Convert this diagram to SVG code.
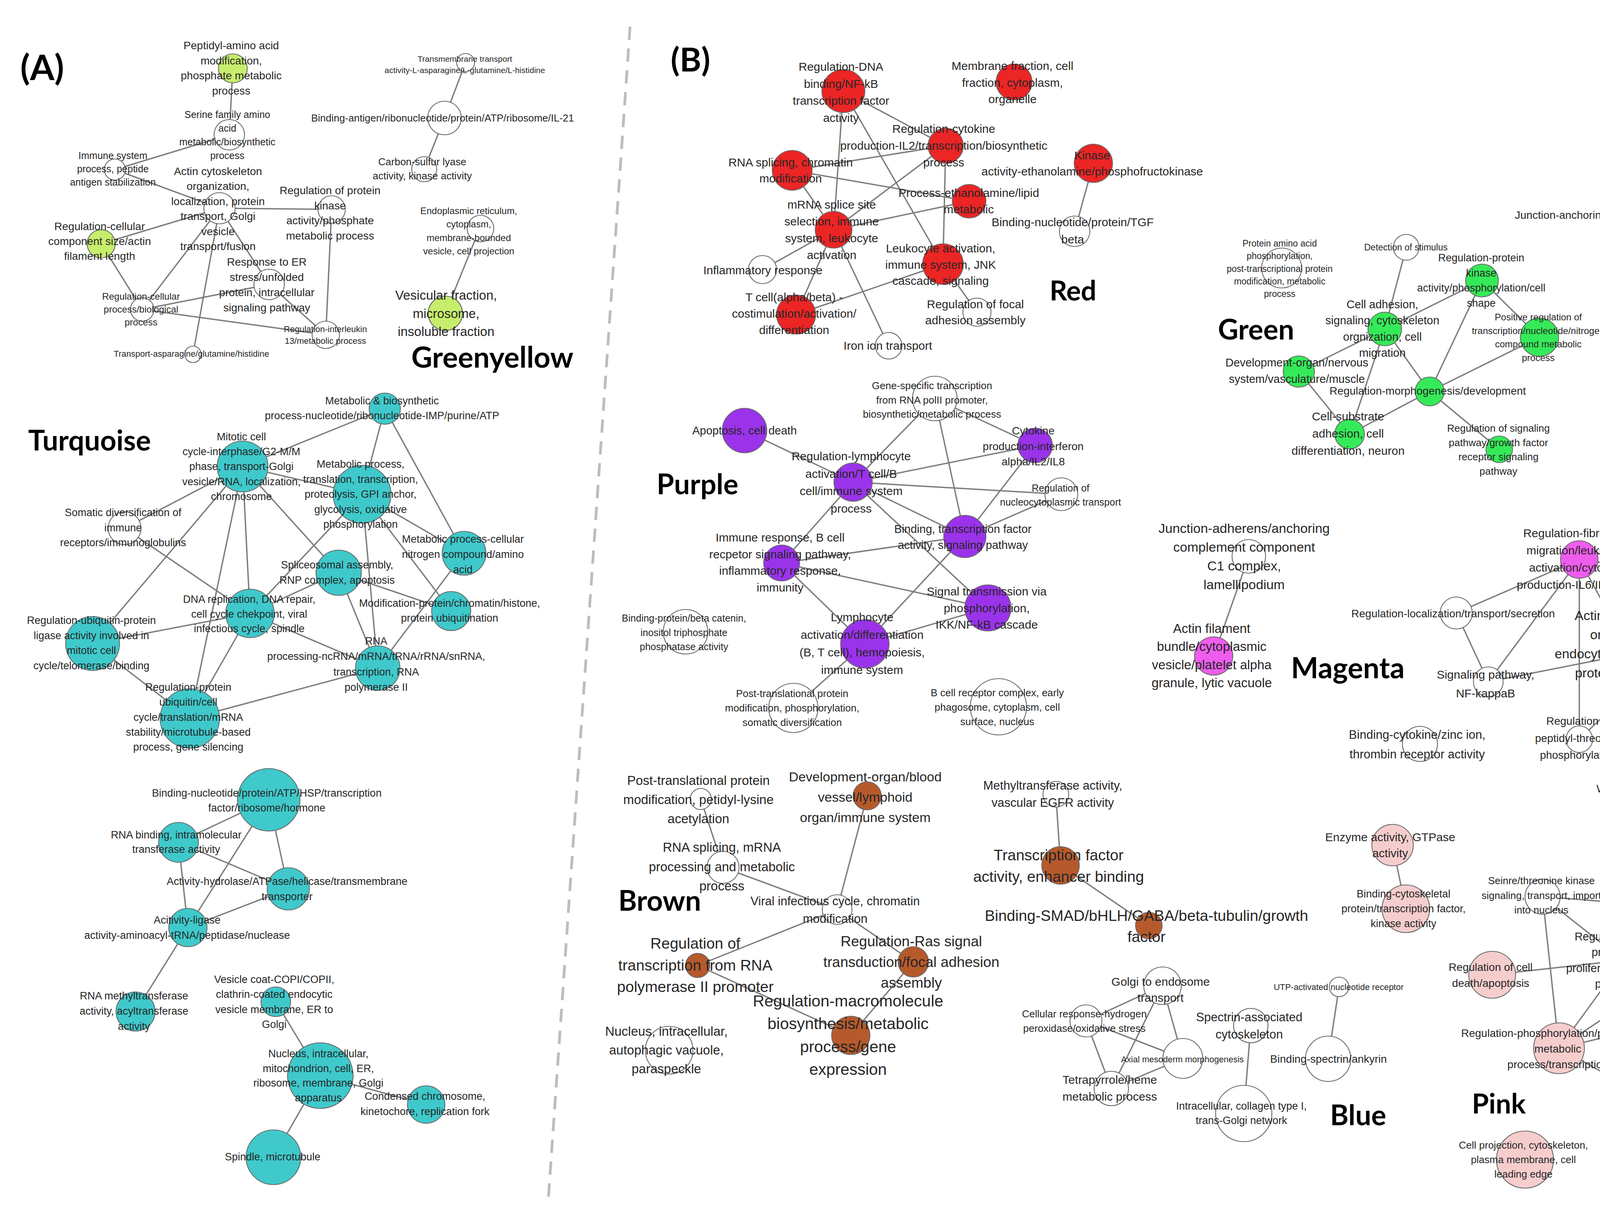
<svg xmlns="http://www.w3.org/2000/svg" width="4989" height="3097" viewBox="0 0 4989 3097">
<style>
.n{stroke:#6a6a6a;stroke-width:2.2}
.cw{fill:#fff}.cgy{fill:#c6ee6c}.ctq{fill:#3fc9cb}.crd{fill:#ec2525}.cgr{fill:#35ea58}.cpu{fill:#9a33ea}.cmg{fill:#ee5ded}.cbr{fill:#b65a2c}.cpk{fill:#f6cdcd}
.l{font-family:"Liberation Sans",Arial,sans-serif;fill:#262626;text-anchor:middle}
.t{font-family:Lato,"Liberation Sans",sans-serif;font-weight:bold;fill:#000}
#edges line{stroke:#7d7d7d;stroke-width:3.5}
</style>
<rect width="4989" height="3097" fill="#fff"/>
<line x1="1613" y1="68" x2="1404" y2="3065" stroke="#bdbdbd" stroke-width="7" stroke-dasharray="34 22"/>
<g id="titles">
<text class="t" x="52" y="205" font-size="90">(A)</text>
<text class="t" x="1717" y="183" font-size="84">(B)</text>
<text class="t" x="1053" y="941" font-size="74">Greenyellow</text>
<text class="t" x="72" y="1153" font-size="72">Turquoise</text>
<text class="t" x="2687" y="769" font-size="70">Red</text>
<text class="t" x="3118" y="869" font-size="72">Green</text>
<text class="t" x="1681" y="1265" font-size="72">Purple</text>
<text class="t" x="3305" y="1736" font-size="74">Magenta</text>
<text class="t" x="1583" y="2331" font-size="72">Brown</text>
<text class="t" x="3405" y="2880" font-size="72">Blue</text>
<text class="t" x="3768" y="2850" font-size="70">Pink</text>
</g>
<g id="edges">
<line x1="596" y1="175" x2="587" y2="345"/><line x1="587" y1="345" x2="294" y2="434"/><line x1="294" y1="434" x2="562" y2="533"/><line x1="562" y1="533" x2="259" y2="624"/><line x1="562" y1="533" x2="849" y2="536"/><line x1="562" y1="533" x2="689" y2="728"/><line x1="562" y1="533" x2="364" y2="792"/><line x1="562" y1="533" x2="494" y2="907"/><line x1="259" y1="624" x2="364" y2="792"/><line x1="364" y1="792" x2="689" y2="728"/><line x1="364" y1="792" x2="834" y2="857"/><line x1="689" y1="728" x2="834" y2="857"/><line x1="849" y1="536" x2="834" y2="857"/><line x1="1192" y1="160" x2="1138" y2="302"/><line x1="1138" y1="302" x2="1086" y2="433"/><line x1="1228" y1="585" x2="1140" y2="802"/>
<line x1="985" y1="1046" x2="621" y2="1194"/><line x1="985" y1="1046" x2="927" y2="1265"/><line x1="985" y1="1046" x2="1188" y2="1416"/><line x1="621" y1="1194" x2="927" y2="1265"/><line x1="621" y1="1194" x2="319" y2="1352"/><line x1="621" y1="1194" x2="237" y2="1647"/><line x1="621" y1="1194" x2="486" y2="1839"/><line x1="621" y1="1194" x2="640" y2="1570"/><line x1="621" y1="1194" x2="867" y2="1466"/><line x1="319" y1="1352" x2="640" y2="1570"/><line x1="927" y1="1265" x2="640" y2="1570"/><line x1="927" y1="1265" x2="967" y2="1710"/><line x1="927" y1="1265" x2="1188" y2="1416"/><line x1="927" y1="1265" x2="1155" y2="1564"/><line x1="867" y1="1466" x2="640" y2="1570"/><line x1="867" y1="1466" x2="967" y2="1710"/><line x1="867" y1="1466" x2="1155" y2="1564"/><line x1="1188" y1="1416" x2="967" y2="1710"/><line x1="640" y1="1570" x2="237" y2="1647"/><line x1="640" y1="1570" x2="967" y2="1710"/><line x1="640" y1="1570" x2="486" y2="1839"/><line x1="237" y1="1647" x2="486" y2="1839"/><line x1="486" y1="1839" x2="967" y2="1710"/>
<line x1="688" y1="2047" x2="457" y2="2156"/><line x1="688" y1="2047" x2="738" y2="2275"/><line x1="688" y1="2047" x2="481" y2="2374"/><line x1="457" y1="2156" x2="738" y2="2275"/><line x1="457" y1="2156" x2="481" y2="2374"/><line x1="738" y1="2275" x2="481" y2="2374"/><line x1="481" y1="2374" x2="347" y2="2589"/><line x1="706" y1="2564" x2="820" y2="2753"/><line x1="820" y1="2753" x2="1091" y2="2827"/><line x1="820" y1="2753" x2="700" y2="2962"/>
<line x1="2159" y1="233" x2="2134" y2="588"/><line x1="2159" y1="233" x2="2421" y2="373"/><line x1="2159" y1="233" x2="2414" y2="676"/><line x1="2028" y1="436" x2="2421" y2="373"/><line x1="2028" y1="436" x2="2481" y2="515"/><line x1="2028" y1="436" x2="2134" y2="588"/><line x1="2421" y1="373" x2="2134" y2="588"/><line x1="2421" y1="373" x2="2414" y2="676"/><line x1="2481" y1="515" x2="2134" y2="588"/><line x1="2134" y1="588" x2="1952" y2="690"/><line x1="2134" y1="588" x2="2038" y2="805"/><line x1="2134" y1="588" x2="2275" y2="885"/><line x1="2414" y1="676" x2="2038" y2="805"/><line x1="2414" y1="676" x2="2501" y2="799"/><line x1="2799" y1="418" x2="2751" y2="592"/>
<line x1="3600" y1="633" x2="3545" y2="842"/><line x1="3794" y1="718" x2="3545" y2="842"/><line x1="3794" y1="718" x2="3941" y2="863"/><line x1="3794" y1="718" x2="3660" y2="1002"/><line x1="3941" y1="863" x2="3660" y2="1002"/><line x1="3545" y1="842" x2="3325" y2="951"/><line x1="3545" y1="842" x2="3660" y2="1002"/><line x1="3545" y1="842" x2="3455" y2="1111"/><line x1="3325" y1="951" x2="3455" y2="1111"/><line x1="3660" y1="1002" x2="3455" y2="1111"/><line x1="3660" y1="1002" x2="3838" y2="1150"/><line x1="4230" y1="572" x2="4230" y2="762"/><line x1="4317" y1="931" x2="4317" y2="1098"/>
<line x1="1906" y1="1102" x2="2184" y2="1234"/><line x1="2184" y1="1234" x2="2393" y2="1020"/><line x1="2393" y1="1020" x2="2650" y2="1140"/><line x1="2184" y1="1234" x2="2650" y2="1140"/><line x1="2184" y1="1234" x2="2717" y2="1265"/><line x1="2184" y1="1234" x2="2470" y2="1373"/><line x1="2184" y1="1234" x2="2001" y2="1441"/><line x1="2184" y1="1234" x2="2529" y2="1556"/><line x1="2393" y1="1020" x2="2470" y2="1373"/><line x1="2650" y1="1140" x2="2470" y2="1373"/><line x1="2470" y1="1373" x2="2717" y2="1265"/><line x1="2001" y1="1441" x2="2470" y2="1373"/><line x1="2001" y1="1441" x2="2529" y2="1556"/><line x1="2001" y1="1441" x2="2214" y2="1648"/><line x1="2214" y1="1648" x2="2470" y2="1373"/><line x1="2214" y1="1648" x2="2529" y2="1556"/><line x1="2214" y1="1648" x2="2031" y2="1812"/>
<line x1="3197" y1="1424" x2="3107" y2="1679"/><line x1="4043" y1="1432" x2="4346" y2="1344"/><line x1="4043" y1="1432" x2="4466" y2="1490"/><line x1="4043" y1="1432" x2="3728" y2="1569"/><line x1="4043" y1="1432" x2="3810" y2="1745"/><line x1="4043" y1="1432" x2="4175" y2="1673"/><line x1="4043" y1="1432" x2="4043" y2="1892"/><line x1="4346" y1="1344" x2="4175" y2="1673"/><line x1="4466" y1="1490" x2="4611" y2="1725"/><line x1="4466" y1="1490" x2="4043" y2="1892"/><line x1="3728" y1="1569" x2="3810" y2="1745"/><line x1="3810" y1="1745" x2="4175" y2="1673"/><line x1="4175" y1="1673" x2="4611" y2="1725"/><line x1="4175" y1="1673" x2="4550" y2="1906"/><line x1="4175" y1="1673" x2="4271" y2="2038"/><line x1="4550" y1="1906" x2="4271" y2="2038"/>
<line x1="1794" y1="2045" x2="1851" y2="2220"/><line x1="1851" y1="2220" x2="2143" y2="2328"/><line x1="2220" y1="2037" x2="2143" y2="2328"/><line x1="2143" y1="2328" x2="1786" y2="2471"/><line x1="2143" y1="2328" x2="2338" y2="2462"/><line x1="1786" y1="2471" x2="2178" y2="2650"/><line x1="2338" y1="2462" x2="2178" y2="2650"/><line x1="2703" y1="2033" x2="2715" y2="2215"/><line x1="2715" y1="2215" x2="2941" y2="2369"/>
<line x1="2976" y1="2523" x2="2780" y2="2613"/><line x1="2976" y1="2523" x2="3028" y2="2709"/><line x1="2976" y1="2523" x2="2845" y2="2786"/><line x1="2780" y1="2613" x2="3028" y2="2709"/><line x1="2780" y1="2613" x2="2845" y2="2786"/><line x1="3028" y1="2709" x2="2845" y2="2786"/><line x1="3202" y1="2625" x2="3184" y2="2850"/><line x1="3428" y1="2526" x2="3400" y2="2710"/>
<line x1="3565" y1="2163" x2="3599" y2="2326"/><line x1="4296" y1="2182" x2="4155" y2="2458"/><line x1="3949" y1="2295" x2="4503" y2="2338"/><line x1="3949" y1="2295" x2="4155" y2="2458"/><line x1="3949" y1="2295" x2="3991" y2="2683"/><line x1="4503" y1="2338" x2="4155" y2="2458"/><line x1="4503" y1="2338" x2="3991" y2="2683"/><line x1="4503" y1="2338" x2="4411" y2="2582"/><line x1="3820" y1="2495" x2="4155" y2="2458"/><line x1="4155" y1="2458" x2="4714" y2="2517"/><line x1="4155" y1="2458" x2="3991" y2="2683"/><line x1="4155" y1="2458" x2="4280" y2="2842"/><line x1="4411" y1="2582" x2="3991" y2="2683"/><line x1="4411" y1="2582" x2="4280" y2="2842"/><line x1="4411" y1="2582" x2="4530" y2="2725"/><line x1="4714" y1="2517" x2="4530" y2="2725"/><line x1="3991" y1="2683" x2="4280" y2="2842"/><line x1="4530" y1="2725" x2="4280" y2="2842"/><line x1="4530" y1="2725" x2="4727" y2="2831"/><line x1="4530" y1="2725" x2="4420" y2="2978"/><line x1="4530" y1="2725" x2="4750" y2="2988"/><line x1="4280" y1="2842" x2="4727" y2="2831"/><line x1="4727" y1="2831" x2="4420" y2="2978"/>
</g>
<g id="nodes">
<g id="gy1"><circle class="n cgy" cx="596" cy="175" r="37"/><text class="l" x="592" y="126" font-size="28"><tspan x="592">Peptidyl-amino acid</tspan><tspan x="592" dy="38.7">modification,</tspan><tspan x="592" dy="38.7">phosphate metabolic</tspan><tspan x="592" dy="38.7">process</tspan></text></g>
<g id="gy2"><circle class="n cw" cx="587" cy="345" r="39"/><text class="l" x="582" y="302" font-size="25"><tspan x="582">Serine family amino</tspan><tspan x="582" dy="35">acid</tspan><tspan x="582" dy="35">metabolic/biosynthetic</tspan><tspan x="582" dy="35">process</tspan></text></g>
<g id="gy3"><circle class="n cw" cx="294" cy="434" r="27"/><text class="l" x="289" y="407" font-size="25"><tspan x="289">Immune system</tspan><tspan x="289" dy="34">process, peptide</tspan><tspan x="289" dy="34">antigen stabilization</tspan></text></g>
<g id="gy4"><circle class="n cw" cx="562" cy="533" r="40"/><text class="l" x="558" y="448" font-size="28"><tspan x="558">Actin cytoskeleton</tspan><tspan x="558" dy="38.4">organization,</tspan><tspan x="558" dy="38.4">localization, protein</tspan><tspan x="558" dy="38.4">transport, Golgi</tspan><tspan x="558" dy="38.4">vesicle</tspan><tspan x="558" dy="38.4">transport/fusion</tspan></text></g>
<g id="gy5"><circle class="n cgy" cx="259" cy="624" r="36"/><text class="l" x="255" y="589" font-size="28"><tspan x="255">Regulation-cellular</tspan><tspan x="255" dy="38">component size/actin</tspan><tspan x="255" dy="38">filament length</tspan></text></g>
<g id="gy6"><circle class="n cw" cx="849" cy="536" r="35"/><text class="l" x="845" y="497" font-size="28"><tspan x="845">Regulation of protein</tspan><tspan x="845" dy="38.7">kinase</tspan><tspan x="845" dy="38.7">activity/phosphate</tspan><tspan x="845" dy="38.7">metabolic process</tspan></text></g>
<g id="gy7"><circle class="n cw" cx="689" cy="728" r="39"/><text class="l" x="683" y="680" font-size="28"><tspan x="683">Response to ER</tspan><tspan x="683" dy="39">stress/unfolded</tspan><tspan x="683" dy="39">protein, intracellular</tspan><tspan x="683" dy="39">signaling pathway</tspan></text></g>
<g id="gy8"><circle class="n cw" cx="364" cy="792" r="30"/><text class="l" x="361" y="767" font-size="24"><tspan x="361">Regulation-cellular</tspan><tspan x="361" dy="33">process/biological</tspan><tspan x="361" dy="33">process</tspan></text></g>
<g id="gy9"><circle class="n cw" cx="834" cy="857" r="35"/><text class="l" x="833" y="850" font-size="22"><tspan x="833">Regulation-interleukin</tspan><tspan x="833" dy="30">13/metabolic process</tspan></text></g>
<g id="gy10"><circle class="n cw" cx="494" cy="907" r="21"/><text class="l" x="490" y="913" font-size="22">Transport-asparagine/glutamine/histidine</text></g>
<g id="gy11"><circle class="n cw" cx="1192" cy="160" r="23"/><text class="l" x="1190" y="158" font-size="21"><tspan x="1190">Transmembrane transport</tspan><tspan x="1190" dy="29">activity-L-asparagine/L-glutamine/L-histidine</tspan></text></g>
<g id="gy12"><circle class="n cw" cx="1138" cy="302" r="43"/><text class="l" x="1133" y="311" font-size="26">Binding-antigen/ribonucleotide/protein/ATP/ribosome/IL-21</text></g>
<g id="gy13"><circle class="n cw" cx="1086" cy="433" r="32"/><text class="l" x="1081" y="423" font-size="26"><tspan x="1081">Carbon-sulfur lyase</tspan><tspan x="1081" dy="36">activity, kinase activity</tspan></text></g>
<g id="gy14"><circle class="n cw" cx="1230" cy="585" r="34"/><text class="l" x="1200" y="548" font-size="24"><tspan x="1200">Endoplasmic reticulum,</tspan><tspan x="1200" dy="34.3">cytoplasm,</tspan><tspan x="1200" dy="34.3">membrane-bounded</tspan><tspan x="1200" dy="34.3">vesicle, cell projection</tspan></text></g>
<g id="gy15"><circle class="n cgy" cx="1140" cy="802" r="44"/><text class="l" x="1142" y="767" font-size="33"><tspan x="1142">Vesicular fraction,</tspan><tspan x="1142" dy="46.5">microsome,</tspan><tspan x="1142" dy="46.5">insoluble fraction</tspan></text></g>

<g id="t1"><circle class="n ctq" cx="985" cy="1046" r="40"/><text class="l" x="978" y="1035" font-size="27"><tspan x="978">Metabolic &amp; biosynthetic</tspan><tspan x="978" dy="38">process-nucleotide/ribonucleotide-IMP/purine/ATP</tspan></text></g>
<g id="t2"><circle class="n ctq" cx="621" cy="1194" r="65"/><text class="l" x="618" y="1127" font-size="27"><tspan x="618">Mitotic cell</tspan><tspan x="618" dy="38.2">cycle-interphase/G2-M/M</tspan><tspan x="618" dy="38.2">phase, transport-Golgi</tspan><tspan x="618" dy="38.2">vesicle/RNA, localization,</tspan><tspan x="618" dy="38.2">chromosome</tspan></text></g>
<g id="t3"><circle class="n ctq" cx="927" cy="1265" r="74"/><text class="l" x="923" y="1197" font-size="27"><tspan x="923">Metabolic process,</tspan><tspan x="923" dy="38.5">translation, transcription,</tspan><tspan x="923" dy="38.5">proteolysis, GPI anchor,</tspan><tspan x="923" dy="38.5">glycolysis, oxidative</tspan><tspan x="923" dy="38.5">phosphorylation</tspan></text></g>
<g id="t4"><circle class="n cw" cx="319" cy="1352" r="42"/><text class="l" x="315" y="1321" font-size="27"><tspan x="315">Somatic diversification of</tspan><tspan x="315" dy="38.5">immune</tspan><tspan x="315" dy="38.5">receptors/immunoglobulins</tspan></text></g>
<g id="t5"><circle class="n ctq" cx="1188" cy="1416" r="56"/><text class="l" x="1185" y="1389" font-size="27"><tspan x="1185">Metabolic process-cellular</tspan><tspan x="1185" dy="39">nitrogen compound/amino</tspan><tspan x="1185" dy="39">acid</tspan></text></g>
<g id="t6"><circle class="n ctq" cx="867" cy="1466" r="58"/><text class="l" x="863" y="1455" font-size="27"><tspan x="863">Spliceosomal assembly,</tspan><tspan x="863" dy="39">RNP complex, apoptosis</tspan></text></g>
<g id="t7"><circle class="n ctq" cx="1155" cy="1564" r="50"/><text class="l" x="1151" y="1553" font-size="27"><tspan x="1151">Modification-protein/chromatin/histone,</tspan><tspan x="1151" dy="38">protein ubiquitination</tspan></text></g>
<g id="t8"><circle class="n ctq" cx="640" cy="1570" r="62"/><text class="l" x="638" y="1543" font-size="27"><tspan x="638">DNA replication, DNA repair,</tspan><tspan x="638" dy="37.5">cell cycle chekpoint, viral</tspan><tspan x="638" dy="37.5">infectious cycle, spindle</tspan></text></g>
<g id="t9"><circle class="n ctq" cx="237" cy="1647" r="69"/><text class="l" x="234" y="1597" font-size="27"><tspan x="234">Regulation-ubiquitin-protein</tspan><tspan x="234" dy="38.7">ligase activity involved in</tspan><tspan x="234" dy="38.7">mitotic cell</tspan><tspan x="234" dy="38.7">cycle/telomerase/binding</tspan></text></g>
<g id="t10"><circle class="n ctq" cx="967" cy="1710" r="57"/><text class="l" x="963" y="1650" font-size="27"><tspan x="963">RNA</tspan><tspan x="963" dy="39.3">processing-ncRNA/mRNA/tRNA/rRNA/snRNA,</tspan><tspan x="963" dy="39.3">transcription, RNA</tspan><tspan x="963" dy="39.3">polymerase II</tspan></text></g>
<g id="t11"><circle class="n ctq" cx="486" cy="1839" r="76"/><text class="l" x="482" y="1768" font-size="27"><tspan x="482">Regulation-protein</tspan><tspan x="482" dy="38.3">ubiquitin/cell</tspan><tspan x="482" dy="38.3">cycle/translation/mRNA</tspan><tspan x="482" dy="38.3">stability/microtubule-based</tspan><tspan x="482" dy="38.3">process, gene silencing</tspan></text></g>
<g id="t12"><circle class="n ctq" cx="688" cy="2047" r="80"/><text class="l" x="683" y="2039" font-size="27"><tspan x="683">Binding-nucleotide/protein/ATP/HSP/transcription</tspan><tspan x="683" dy="38">factor/ribosome/hormone</tspan></text></g>
<g id="t13"><circle class="n ctq" cx="457" cy="2156" r="51"/><text class="l" x="451" y="2146" font-size="27"><tspan x="451">RNA binding, intramolecular</tspan><tspan x="451" dy="37">transferase activity</tspan></text></g>
<g id="t14"><circle class="n ctq" cx="738" cy="2275" r="54"/><text class="l" x="735" y="2265" font-size="27"><tspan x="735">Activity-hydrolase/ATPase/helicase/transmembrane</tspan><tspan x="735" dy="39">transporter</tspan></text></g>
<g id="t15"><circle class="n ctq" cx="481" cy="2374" r="49"/><text class="l" x="479" y="2364" font-size="27"><tspan x="479">Acitivity-ligase</tspan><tspan x="479" dy="39">activity-aminoacyl-tRNA/peptidase/nuclease</tspan></text></g>
<g id="t16"><circle class="n ctq" cx="347" cy="2589" r="50"/><text class="l" x="343" y="2558" font-size="27"><tspan x="343">RNA methyltransferase</tspan><tspan x="343" dy="39">activity, acyltransferase</tspan><tspan x="343" dy="39">activity</tspan></text></g>
<g id="t17"><circle class="n ctq" cx="706" cy="2564" r="38"/><text class="l" x="702" y="2516" font-size="27"><tspan x="702">Vesicle coat-COPI/COPII,</tspan><tspan x="702" dy="38.3">clathrin-coated endocytic</tspan><tspan x="702" dy="38.3">vesicle membrane, ER to</tspan><tspan x="702" dy="38.3">Golgi</tspan></text></g>
<g id="t18"><circle class="n ctq" cx="820" cy="2753" r="84"/><text class="l" x="815" y="2706" font-size="27"><tspan x="815">Nucleus, intracellular,</tspan><tspan x="815" dy="37.7">mitochondrion, cell, ER,</tspan><tspan x="815" dy="37.7">ribosome, membrane, Golgi</tspan><tspan x="815" dy="37.7">apparatus</tspan></text></g>
<g id="t19"><circle class="n ctq" cx="1091" cy="2827" r="48"/><text class="l" x="1088" y="2815" font-size="27"><tspan x="1088">Condensed chromosome,</tspan><tspan x="1088" dy="39">kinetochore, replication fork</tspan></text></g>
<g id="t20"><circle class="n ctq" cx="700" cy="2962" r="70"/><text class="l" x="698" y="2970" font-size="27">Spindle, microtubule</text></g>

<g id="r1"><circle class="n crd" cx="2159" cy="233" r="55"/><text class="l" x="2153" y="181" font-size="30"><tspan x="2153">Regulation-DNA</tspan><tspan x="2153" dy="43.7">binding/NF-kB</tspan><tspan x="2153" dy="43.7">transcription factor</tspan><tspan x="2153" dy="43.7">activity</tspan></text></g>
<g id="r2"><circle class="n crd" cx="2596" cy="210" r="46"/><text class="l" x="2592" y="179" font-size="30"><tspan x="2592">Membrane fraction, cell</tspan><tspan x="2592" dy="42.5">fraction, cytoplasm,</tspan><tspan x="2592" dy="42.5">organelle</tspan></text></g>
<g id="r3"><circle class="n crd" cx="2421" cy="373" r="45"/><text class="l" x="2416" y="340" font-size="30"><tspan x="2416">Regulation-cytokine</tspan><tspan x="2416" dy="43">production-IL2/transcription/biosynthetic</tspan><tspan x="2416" dy="43">process</tspan></text></g>
<g id="r4"><circle class="n crd" cx="2028" cy="436" r="51"/><text class="l" x="2024" y="426" font-size="30"><tspan x="2024">RNA splicing, chromatin</tspan><tspan x="2024" dy="41">modification</tspan></text></g>
<g id="r5"><circle class="n crd" cx="2799" cy="418" r="49"/><text class="l" x="2796" y="408" font-size="30"><tspan x="2796">Kinase</tspan><tspan x="2796" dy="41">activity-ethanolamine/phosphofructokinase</tspan></text></g>
<g id="r6"><circle class="n crd" cx="2481" cy="515" r="43"/><text class="l" x="2480" y="504" font-size="30"><tspan x="2480">Process-ethanolamine/lipid</tspan><tspan x="2480" dy="42">metabolic</tspan></text></g>
<g id="r7"><circle class="n crd" cx="2134" cy="588" r="47"/><text class="l" x="2129" y="534" font-size="30"><tspan x="2129">mRNA splice site</tspan><tspan x="2129" dy="43">selection, immune</tspan><tspan x="2129" dy="43">system, leukocyte</tspan><tspan x="2129" dy="43">activation</tspan></text></g>
<g id="r8"><circle class="n cw" cx="2751" cy="592" r="39"/><text class="l" x="2746" y="579" font-size="30"><tspan x="2746">Binding-nucleotide/protein/TGF</tspan><tspan x="2746" dy="44">beta</tspan></text></g>
<g id="r9"><circle class="n crd" cx="2414" cy="676" r="52"/><text class="l" x="2408" y="646" font-size="30"><tspan x="2408">Leukocyte activation,</tspan><tspan x="2408" dy="41.5">immune system, JNK</tspan><tspan x="2408" dy="41.5">cascade, signaling</tspan></text></g>
<g id="r10"><circle class="n cw" cx="1952" cy="690" r="36"/><text class="l" x="1953" y="702" font-size="30">Inflammatory response</text></g>
<g id="r11"><circle class="n crd" cx="2038" cy="805" r="50"/><text class="l" x="2033" y="771" font-size="30"><tspan x="2033">T cell(alpha/beta) -</tspan><tspan x="2033" dy="42">costimulation/activation/</tspan><tspan x="2033" dy="42">differentiation</tspan></text></g>
<g id="r12"><circle class="n cw" cx="2501" cy="799" r="36"/><text class="l" x="2497" y="789" font-size="30"><tspan x="2497">Regulation of focal</tspan><tspan x="2497" dy="41">adhesion assembly</tspan></text></g>
<g id="r13"><circle class="n cw" cx="2275" cy="885" r="34"/><text class="l" x="2273" y="895" font-size="30">Iron ion transport</text></g>

<g id="g1"><circle class="n cw" cx="3281" cy="686" r="51"/><text class="l" x="3276" y="631" font-size="23"><tspan x="3276">Protein amino acid</tspan><tspan x="3276" dy="32.3">phosphorylation,</tspan><tspan x="3276" dy="32.3">post-transcriptional protein</tspan><tspan x="3276" dy="32.3">modification, metabolic</tspan><tspan x="3276" dy="32.3">process</tspan></text></g>
<g id="g2"><circle class="n cw" cx="3600" cy="633" r="33"/><text class="l" x="3599" y="641" font-size="23">Detection of stimulus</text></g>
<g id="g3"><circle class="n cgr" cx="3794" cy="718" r="42"/><text class="l" x="3792" y="669" font-size="27"><tspan x="3792">Regulation-protein</tspan><tspan x="3792" dy="38.7">kinase</tspan><tspan x="3792" dy="38.7">activity/phosphorylation/cell</tspan><tspan x="3792" dy="38.7">shape</tspan></text></g>
<g id="g4"><circle class="n cgr" cx="3545" cy="842" r="43"/><text class="l" x="3539" y="789" font-size="29"><tspan x="3539">Cell adhesion,</tspan><tspan x="3539" dy="41.3">signaling, cytoskeleton</tspan><tspan x="3539" dy="41.3">orgnization, cell</tspan><tspan x="3539" dy="41.3">migration</tspan></text></g>
<g id="g5"><circle class="n cgr" cx="3325" cy="951" r="40"/><text class="l" x="3320" y="938" font-size="29"><tspan x="3320">Development-organ/nervous</tspan><tspan x="3320" dy="42">system/vasculature/muscle</tspan></text></g>
<g id="g6"><circle class="n cgr" cx="3660" cy="1002" r="37"/><text class="l" x="3655" y="1010" font-size="28">Regulation-morphogenesis/development</text></g>
<g id="g7"><circle class="n cgr" cx="3941" cy="863" r="49"/><text class="l" x="3938" y="820" font-size="24"><tspan x="3938">Positive regulation of</tspan><tspan x="3938" dy="34.7">transcription/nucleotide/nitrogen</tspan><tspan x="3938" dy="34.7">compound metabolic</tspan><tspan x="3938" dy="34.7">process</tspan></text></g>
<g id="g8"><circle class="n cgr" cx="4230" cy="572" r="34"/><text class="l" x="4225" y="560" font-size="28"><tspan x="4225">Junction-anchoring/adherens/cell/cell-cell/cell-substrate,</tspan><tspan x="4225" dy="41">focal adhesion</tspan></text></g>
<g id="g9"><circle class="n cgr" cx="4230" cy="762" r="50"/><text class="l" x="4225" y="709" font-size="29"><tspan x="4225">Extracellular matrix,</tspan><tspan x="4225" dy="41">plasma membrane,</tspan><tspan x="4225" dy="41">actin, laminin, cell</tspan><tspan x="4225" dy="41">projection</tspan></text></g>
<g id="g10"><circle class="n cgr" cx="4317" cy="931" r="39"/><text class="l" x="4314" y="904" font-size="26"><tspan x="4314">Transmembrane receptor</tspan><tspan x="4314" dy="36.5">protein kinase activity,</tspan><tspan x="4314" dy="36.5">growth factor binding</tspan></text></g>
<g id="g11"><circle class="n cgr" cx="4317" cy="1098" r="42"/><text class="l" x="4313" y="1089" font-size="27"><tspan x="4313">Binding-cytoskeletal</tspan><tspan x="4313" dy="38">protein/actin/calcium ion</tspan></text></g>
<g id="g12"><circle class="n cgr" cx="3455" cy="1111" r="38"/><text class="l" x="3451" y="1076" font-size="30"><tspan x="3451">Cell-substrate</tspan><tspan x="3451" dy="44">adhesion, cell</tspan><tspan x="3451" dy="44">differentiation, neuron</tspan></text></g>
<g id="g13"><circle class="n cgr" cx="3838" cy="1150" r="34"/><text class="l" x="3836" y="1105" font-size="26"><tspan x="3836">Regulation of signaling</tspan><tspan x="3836" dy="36.7">pathway/growth factor</tspan><tspan x="3836" dy="36.7">receptor signaling</tspan><tspan x="3836" dy="36.7">pathway</tspan></text></g>

<g id="p1"><circle class="n cw" cx="2393" cy="1020" r="57"/><text class="l" x="2386" y="996" font-size="26"><tspan x="2386">Gene-specific transcription</tspan><tspan x="2386" dy="36.5">from RNA polII promoter,</tspan><tspan x="2386" dy="36.5">biosynthetic/metabolic process</tspan></text></g>
<g id="p2"><circle class="n cpu" cx="1906" cy="1102" r="57"/><text class="l" x="1906" y="1112" font-size="29">Apoptosis, cell death</text></g>
<g id="p3"><circle class="n cpu" cx="2184" cy="1234" r="49"/><text class="l" x="2179" y="1178" font-size="30"><tspan x="2179">Regulation-lymphocyte</tspan><tspan x="2179" dy="44.7">activation/T cell/B</tspan><tspan x="2179" dy="44.7">cell/immune system</tspan><tspan x="2179" dy="44.7">process</tspan></text></g>
<g id="p4"><circle class="n cpu" cx="2650" cy="1140" r="44"/><text class="l" x="2645" y="1112" font-size="28"><tspan x="2645">Cytokine</tspan><tspan x="2645" dy="39.5">production-interferon</tspan><tspan x="2645" dy="39.5">alpha/IL2/IL8</tspan></text></g>
<g id="p5"><circle class="n cw" cx="2717" cy="1265" r="42"/><text class="l" x="2715" y="1258" font-size="25"><tspan x="2715">Regulation of</tspan><tspan x="2715" dy="36">nucleocytoplasmic transport</tspan></text></g>
<g id="p6"><circle class="n cpu" cx="2470" cy="1373" r="54"/><text class="l" x="2465" y="1364" font-size="29"><tspan x="2465">Binding, transcription factor</tspan><tspan x="2465" dy="41">activity, signaling pathway</tspan></text></g>
<g id="p7"><circle class="n cpu" cx="2001" cy="1441" r="46"/><text class="l" x="1997" y="1386" font-size="30"><tspan x="1997">Immune response, B cell</tspan><tspan x="1997" dy="42.7">recpetor signaling pathway,</tspan><tspan x="1997" dy="42.7">inflammatory response,</tspan><tspan x="1997" dy="42.7">immunity</tspan></text></g>
<g id="p8"><circle class="n cpu" cx="2529" cy="1556" r="59"/><text class="l" x="2526" y="1524" font-size="30"><tspan x="2526">Signal transmission via</tspan><tspan x="2526" dy="42.5">phosphorylation,</tspan><tspan x="2526" dy="42.5">IKK/NF-kB cascade</tspan></text></g>
<g id="p9"><circle class="n cpu" cx="2214" cy="1648" r="62"/><text class="l" x="2207" y="1590" font-size="30"><tspan x="2207">Lymphocyte</tspan><tspan x="2207" dy="45">activation/differentiation</tspan><tspan x="2207" dy="45">(B, T cell), hemopoiesis,</tspan><tspan x="2207" dy="45">immune system</tspan></text></g>
<g id="p10"><circle class="n cw" cx="1755" cy="1617" r="57"/><text class="l" x="1751" y="1591" font-size="25"><tspan x="1751">Binding-protein/beta catenin,</tspan><tspan x="1751" dy="36.5">inositol triphosphate</tspan><tspan x="1751" dy="36.5">phosphatase activity</tspan></text></g>
<g id="p11"><circle class="n cw" cx="2031" cy="1812" r="63"/><text class="l" x="2028" y="1784" font-size="26"><tspan x="2028">Post-translational protein</tspan><tspan x="2028" dy="37">modification, phosphorylation,</tspan><tspan x="2028" dy="37">somatic diversification</tspan></text></g>
<g id="p12"><circle class="n cw" cx="2556" cy="1809" r="72"/><text class="l" x="2553" y="1782" font-size="26"><tspan x="2553">B cell receptor complex, early</tspan><tspan x="2553" dy="37">phagosome, cytoplasm, cell</tspan><tspan x="2553" dy="37">surface, nucleus</tspan></text></g>

<g id="m1"><circle class="n cw" cx="3197" cy="1424" r="43"/><text class="l" x="3185" y="1364" font-size="34"><tspan x="3185">Junction-adherens/anchoring</tspan><tspan x="3185" dy="48">complement component</tspan><tspan x="3185" dy="48">C1 complex,</tspan><tspan x="3185" dy="48">lamellipodium</tspan></text></g>
<g id="m2"><circle class="n cmg" cx="3107" cy="1679" r="49"/><text class="l" x="3102" y="1620" font-size="33"><tspan x="3102">Actin filament</tspan><tspan x="3102" dy="46.3">bundle/cytoplasmic</tspan><tspan x="3102" dy="46.3">vesicle/platelet alpha</tspan><tspan x="3102" dy="46.3">granule, lytic vacuole</tspan></text></g>
<g id="m3"><circle class="n cmg" cx="4043" cy="1432" r="48"/><text class="l" x="4037" y="1375" font-size="30"><tspan x="4037">Regulation-fibroblast</tspan><tspan x="4037" dy="44">migration/leukocyte</tspan><tspan x="4037" dy="44">activation/cytokine</tspan><tspan x="4037" dy="44">production-IL6/IL8/IL1b</tspan></text></g>
<g id="m4"><circle class="n cw" cx="4346" cy="1344" r="42"/><text class="l" x="4346" y="1354" font-size="29">Homeostasis</text></g>
<g id="m5"><circle class="n cw" cx="4466" cy="1490" r="42"/><text class="l" x="4462" y="1430" font-size="34"><tspan x="4462">mRNA metabolic</tspan><tspan x="4462" dy="48.7">process, mRNA stability,</tspan><tspan x="4462" dy="48.7">gene-specific</tspan><tspan x="4462" dy="48.7">transcription</tspan></text></g>
<g id="m6"><circle class="n cw" cx="3728" cy="1569" r="41"/><text class="l" x="3720" y="1580" font-size="28">Regulation-localization/transport/secretion</text></g>
<g id="m7"><circle class="n cw" cx="3810" cy="1745" r="38"/><text class="l" x="3803" y="1737" font-size="30"><tspan x="3803">Signaling pathway,</tspan><tspan x="3803" dy="48">NF-kappaB</tspan></text></g>
<g id="m8"><circle class="n cw" cx="4175" cy="1673" r="42"/><text class="l" x="4168" y="1587" font-size="34"><tspan x="4168">Actin cytoskeleton</tspan><tspan x="4168" dy="49">organization,</tspan><tspan x="4168" dy="49">endocytosis, localization,</tspan><tspan x="4168" dy="49">protein import into</tspan><tspan x="4168" dy="49">nucleus</tspan></text></g>
<g id="m9"><circle class="n cw" cx="4611" cy="1725" r="34"/><text class="l" x="4605" y="1682" font-size="35"><tspan x="4605">Post-translational</tspan><tspan x="4605" dy="51.5">protein modification,</tspan><tspan x="4605" dy="51.5">protein ubiquitination</tspan></text></g>
<g id="m10"><circle class="n cw" cx="3635" cy="1904" r="45"/><text class="l" x="3628" y="1891" font-size="31"><tspan x="3628">Binding-cytokine/zinc ion,</tspan><tspan x="3628" dy="50">thrombin receptor activity</tspan></text></g>
<g id="m11"><circle class="n cw" cx="4043" cy="1892" r="34"/><text class="l" x="4041" y="1855" font-size="28"><tspan x="4041">Regulation of</tspan><tspan x="4041" dy="43.5">peptidyl-threonine</tspan><tspan x="4041" dy="43.5">phosphorylation</tspan></text></g>
<g id="m12"><circle class="n cw" cx="4550" cy="1906" r="38"/><text class="l" x="4545" y="1867" font-size="28"><tspan x="4545">Development-central</tspan><tspan x="4545" dy="46.5">nervous system/brain,</tspan><tspan x="4545" dy="46.5">vasculogene</tspan></text></g>
<g id="m13"><circle class="n cw" cx="4271" cy="2038" r="37"/><text class="l" x="4268" y="2028" font-size="28"><tspan x="4268">Wound healing, inflammatory</tspan><tspan x="4268" dy="42">response</tspan></text></g>
<g id="m14"><text class="l" x="4741" y="2013" font-size="31" style="text-anchor:start"><tspan x="4741">indi</tspan><tspan x="4741" dy="51">iron</tspan></text></g>

<g id="b1"><circle class="n cw" cx="1794" cy="2045" r="27"/><text class="l" x="1788" y="2009" font-size="33"><tspan x="1788">Post-translational protein</tspan><tspan x="1788" dy="49">modification, petidyl-lysine</tspan><tspan x="1788" dy="49">acetylation</tspan></text></g>
<g id="b2"><circle class="n cbr" cx="2220" cy="2037" r="36"/><text class="l" x="2215" y="2000" font-size="34"><tspan x="2215">Development-organ/blood</tspan><tspan x="2215" dy="52">vessel/lymphoid</tspan><tspan x="2215" dy="52">organ/immune system</tspan></text></g>
<g id="b3"><circle class="n cw" cx="1851" cy="2220" r="41"/><text class="l" x="1848" y="2180" font-size="33"><tspan x="1848">RNA splicing, mRNA</tspan><tspan x="1848" dy="49.5">processing and metabolic</tspan><tspan x="1848" dy="49.5">process</tspan></text></g>
<g id="b4"><circle class="n cw" cx="2143" cy="2328" r="38"/><text class="l" x="2138" y="2317" font-size="31"><tspan x="2138">Viral infectious cycle, chromatin</tspan><tspan x="2138" dy="45">modification</tspan></text></g>
<g id="b5"><circle class="n cbr" cx="1786" cy="2471" r="31"/><text class="l" x="1780" y="2428" font-size="39"><tspan x="1780">Regulation of</tspan><tspan x="1780" dy="55.5">transcription from RNA</tspan><tspan x="1780" dy="55.5">polymerase II promoter</tspan></text></g>
<g id="b6"><circle class="n cbr" cx="2338" cy="2462" r="39"/><text class="l" x="2333" y="2422" font-size="37"><tspan x="2333">Regulation-Ras signal</tspan><tspan x="2333" dy="53">transduction/focal adhesion</tspan><tspan x="2333" dy="53">assembly</tspan></text></g>
<g id="b7"><circle class="n cbr" cx="2178" cy="2650" r="49"/><text class="l" x="2171" y="2576" font-size="41"><tspan x="2171">Regulation-macromolecule</tspan><tspan x="2171" dy="58.3">biosynthesis/metabolic</tspan><tspan x="2171" dy="58.3">process/gene</tspan><tspan x="2171" dy="58.3">expression</tspan></text></g>
<g id="b8"><circle class="n cw" cx="1713" cy="2688" r="61"/><text class="l" x="1706" y="2651" font-size="33"><tspan x="1706">Nucleus, intracellular,</tspan><tspan x="1706" dy="48">autophagic vacuole,</tspan><tspan x="1706" dy="48">paraspeckle</tspan></text></g>
<g id="b9"><circle class="n cw" cx="2703" cy="2033" r="33"/><text class="l" x="2695" y="2021" font-size="31"><tspan x="2695">Methyltransferase activity,</tspan><tspan x="2695" dy="44">vascular EGFR activity</tspan></text></g>
<g id="b10"><circle class="n cbr" cx="2715" cy="2215" r="48"/><text class="l" x="2710" y="2202" font-size="39"><tspan x="2710">Transcription factor</tspan><tspan x="2710" dy="55">activity, enhancer binding</tspan></text></g>
<g id="b11"><circle class="n cbr" cx="2941" cy="2369" r="34"/><text class="l" x="2935" y="2357" font-size="39"><tspan x="2935">Binding-SMAD/bHLH/GABA/beta-tubulin/growth</tspan><tspan x="2935" dy="54">factor</tspan></text></g>

<g id="u1"><circle class="n cw" cx="2976" cy="2523" r="48"/><text class="l" x="2971" y="2523" font-size="30"><tspan x="2971">Golgi to endosome</tspan><tspan x="2971" dy="41">transport</tspan></text></g>
<g id="u2"><circle class="n cw" cx="2780" cy="2613" r="41"/><text class="l" x="2776" y="2604" font-size="26"><tspan x="2776">Cellular response-hydrogen</tspan><tspan x="2776" dy="37">peroxidase/oxidative stress</tspan></text></g>
<g id="u3"><circle class="n cw" cx="3028" cy="2709" r="51"/><text class="l" x="3027" y="2719" font-size="22">Axial mesoderm morphogenesis</text></g>
<g id="u4"><circle class="n cw" cx="2845" cy="2786" r="44"/><text class="l" x="2841" y="2774" font-size="30"><tspan x="2841">Tetrapyrrole/heme</tspan><tspan x="2841" dy="43">metabolic process</tspan></text></g>
<g id="u5"><circle class="n cw" cx="3202" cy="2625" r="44"/><text class="l" x="3198" y="2614" font-size="31"><tspan x="3198">Spectrin-associated</tspan><tspan x="3198" dy="44">cytoskeleton</tspan></text></g>
<g id="u6"><circle class="n cw" cx="3184" cy="2850" r="72"/><text class="l" x="3178" y="2840" font-size="27"><tspan x="3178">Intracellular, collagen type I,</tspan><tspan x="3178" dy="37">trans-Golgi network</tspan></text></g>
<g id="u7"><circle class="n cw" cx="3428" cy="2526" r="25"/><text class="l" x="3427" y="2534" font-size="22">UTP-activated nucleotide receptor</text></g>
<g id="u8"><circle class="n cw" cx="3400" cy="2710" r="58"/><text class="l" x="3401" y="2720" font-size="28">Binding-spectrin/ankyrin</text></g>

<g id="k1"><circle class="n cpk" cx="3565" cy="2163" r="53"/><text class="l" x="3559" y="2153" font-size="30"><tspan x="3559">Enzyme activity, GTPase</tspan><tspan x="3559" dy="41">activity</tspan></text></g>
<g id="k2"><circle class="n cpk" cx="3599" cy="2326" r="61"/><text class="l" x="3593" y="2297" font-size="27"><tspan x="3593">Binding-cytoskeletal</tspan><tspan x="3593" dy="38">protein/transcription factor,</tspan><tspan x="3593" dy="38">kinase activity</tspan></text></g>
<g id="k3"><circle class="n cpk" cx="4296" cy="2182" r="49"/><text class="l" x="4292" y="2171" font-size="27"><tspan x="4292">Regulation of blood</tspan><tspan x="4292" dy="39">coagulation/wound healing</tspan></text></g>
<g id="k4"><circle class="n cw" cx="3949" cy="2295" r="45"/><text class="l" x="3946" y="2263" font-size="26"><tspan x="3946">Seinre/threonine kinase</tspan><tspan x="3946" dy="37.5">signaling, transport, import</tspan><tspan x="3946" dy="37.5">into nucleus</tspan></text></g>
<g id="k5"><circle class="n cpk" cx="4503" cy="2338" r="53"/><text class="l" x="4498" y="2288" font-size="28"><tspan x="4498">Regulation-signaling</tspan><tspan x="4498" dy="40.3">pathway-MAP3K/ERK/MAPK,</tspan><tspan x="4498" dy="40.3">GTPase mediated signal</tspan><tspan x="4498" dy="40.3">transduction</tspan></text></g>
<g id="k6"><circle class="n cpk" cx="3820" cy="2495" r="60"/><text class="l" x="3816" y="2485" font-size="28"><tspan x="3816">Regulation of cell</tspan><tspan x="3816" dy="41">death/apoptosis</tspan></text></g>
<g id="k7"><circle class="n cpk" cx="4155" cy="2458" r="52"/><text class="l" x="4151" y="2407" font-size="29"><tspan x="4151">Regulation-cellular</tspan><tspan x="4151" dy="40.3">process/cell</tspan><tspan x="4151" dy="40.3">proliferation/TGF-beta</tspan><tspan x="4151" dy="40.3">production</tspan></text></g>
<g id="k8"><circle class="n cpk" cx="4714" cy="2517" r="65"/><text class="l" x="4709" y="2486" font-size="30"><tspan x="4709">Signaling-tyrosine</tspan><tspan x="4709" dy="43">kinase/SMAD protein/Ras</tspan><tspan x="4709" dy="43">protein</tspan></text></g>
<g id="k9"><circle class="n cpk" cx="4411" cy="2582" r="55"/><text class="l" x="4408" y="2555" font-size="26"><tspan x="4408">Response to</tspan><tspan x="4408" dy="37.5">hypoxia/stimulus, wound</tspan><tspan x="4408" dy="37.5">healing</tspan></text></g>
<g id="k10"><circle class="n cpk" cx="3991" cy="2683" r="65"/><text class="l" x="3988" y="2654" font-size="28"><tspan x="3988">Regulation-phosphorylation/phosphorus</tspan><tspan x="3988" dy="40">metabolic</tspan><tspan x="3988" dy="40">process/transcription</tspan></text></g>
<g id="k11"><circle class="n cpk" cx="4530" cy="2725" r="56"/><text class="l" x="4526" y="2694" font-size="27"><tspan x="4526">Cell adhesion, actin</tspan><tspan x="4526" dy="39.5">filamtent, assembly,</tspan><tspan x="4526" dy="39.5">endocytosis</tspan></text></g>
<g id="k12"><circle class="n cpk" cx="4280" cy="2842" r="57"/><text class="l" x="4276" y="2811" font-size="27"><tspan x="4276">Regulation-cell</tspan><tspan x="4276" dy="40">size/catalytic activity, blood</tspan><tspan x="4276" dy="40">circulation</tspan></text></g>
<g id="k13"><circle class="n cpk" cx="4727" cy="2831" r="54"/><text class="l" x="4723" y="2819" font-size="28"><tspan x="4723">Morphogenesis,</tspan><tspan x="4723" dy="41">vasculature development</tspan></text></g>
<g id="k14"><circle class="n cpk" cx="3904" cy="2968" r="73"/><text class="l" x="3900" y="2940" font-size="26"><tspan x="3900">Cell projection, cytoskeleton,</tspan><tspan x="3900" dy="37">plasma membrane, cell</tspan><tspan x="3900" dy="37">leading edge</tspan></text></g>
<g id="k15"><circle class="n cpk" cx="4420" cy="2978" r="54"/><text class="l" x="4414" y="2967" font-size="29"><tspan x="4414">Development-cell/neuron/muscle/cell</tspan><tspan x="4414" dy="42">projection</tspan></text></g>
<g id="k16"><circle class="n cw" cx="4750" cy="2988" r="59"/><text class="l" x="4747" y="2980" font-size="26"><tspan x="4747">Metabolic</tspan><tspan x="4747" dy="36">process-phosphate/receptor/sulfur</tspan></text></g>
</g>
</svg>
